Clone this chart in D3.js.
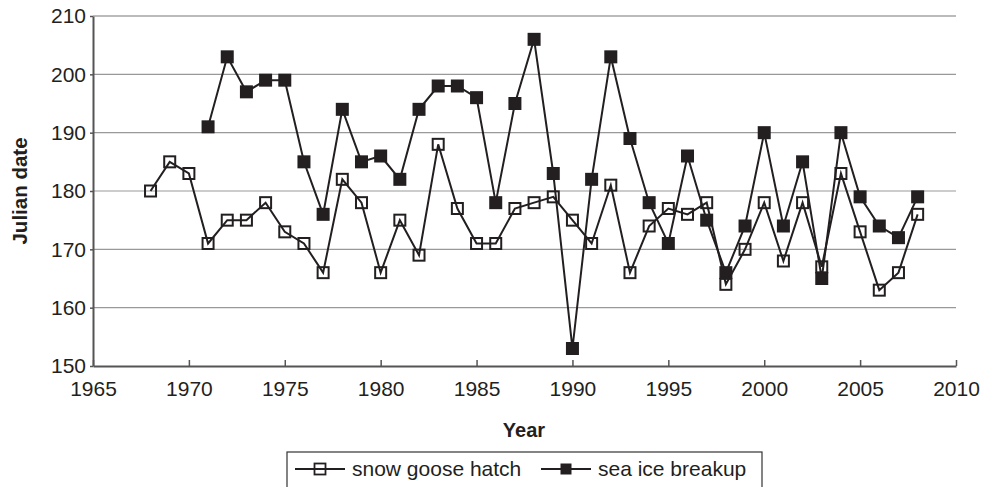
<!DOCTYPE html>
<html lang="en">
<head>
    <meta charset="UTF-8">
    <title>Snow goose hatch vs sea ice breakup</title>
    <script src="https://d3js.org/d3.v7.min.js"></script>
    <style>
        body { margin: 0; background: #fff; }
        text { font-family: "Liberation Sans", Arial, sans-serif; fill: #231f20; }
        .grid line { stroke: #999; stroke-width: 1.2; }
        .axis path, .axis line { stroke: #555; }
    </style>
</head>
<body>
    <script>
        // data
        const gooseYears = d3.range(1968, 2009);
        const gooseHatch = [180, 185, 183, 171, 175, 175, 178, 173, 171, 166,
                            182, 178, 166, 175, 169, 188, 177, 171, 171, 177,
                            178, 179, 175, 171, 181, 166, 174, 177, 176, 178,
                            164, 170, 178, 168, 178, 167, 183, 173, 163, 166, 176];
        const iceYears = d3.range(1971, 2009);
        const iceBreakup = [191, 203, 197, 199, 199, 185, 176, 194, 185, 186,
                            182, 194, 198, 198, 196, 178, 195, 206, 183, 153,
                            182, 203, 189, 178, 171, 186, 175, 166, 174, 190,
                            174, 185, 165, 190, 179, 174, 172, 179];
        const xTicks = [1965, 1970, 1975, 1980, 1985, 1990, 1995, 2000, 2005, 2010];
        const yTicks = [150, 160, 170, 180, 190, 200, 210];

        const svgWidth = 982, svgHeight = 487;
        const ink = "#231f20";

        const svg = d3.select("body").append("svg")
            .attr("width", svgWidth)
            .attr("height", svgHeight);

        const x = d3.scaleLinear().domain([1965, 2010]).range([93, 956]);
        const y = d3.scaleLinear().domain([150, 210]).range([366, 16]);

        // horizontal gridlines
        svg.append("g").attr("class", "grid")
            .selectAll("line")
            .data(yTicks.filter(d => d > 150))
            .enter().append("line")
            .attr("x1", x(1965)).attr("x2", x(2010))
            .attr("y1", d => y(d)).attr("y2", d => y(d))
            .style("stroke", d => d === 210 ? "#bbb" : null)
            .style("stroke-width", d => d === 210 ? 2 : null);

        // axes
        const xAxis = svg.append("g").attr("class", "axis")
            .attr("transform", "translate(0," + y(150) + ")")
            .call(d3.axisBottom(x).tickValues(xTicks).tickFormat(d3.format("d"))
                .tickSizeInner(-6).tickSizeOuter(0).tickPadding(15));
        xAxis.select(".domain").attr("stroke-width", 2);
        xAxis.selectAll(".tick line").attr("stroke-width", 1.5);
        xAxis.selectAll("text").style("font-size", "21px").attr("fill", ink);

        const yAxis = svg.append("g").attr("class", "axis")
            .attr("transform", "translate(" + x(1965) + ",0)")
            .call(d3.axisLeft(y).tickValues(yTicks)
                .tickSizeInner(3).tickSizeOuter(0).tickPadding(4));
        yAxis.select(".domain").attr("stroke-width", 2);
        yAxis.selectAll(".tick line").attr("stroke-width", 1.5);
        yAxis.selectAll("text").style("font-size", "21px").attr("fill", ink);

        // axis titles
        svg.append("text")
            .attr("transform", "translate(27," + (y(180)) + ") rotate(-90)")
            .attr("text-anchor", "middle")
            .style("font-size", "20.5px").style("font-weight", "bold")
            .text("Julian date");
        svg.append("text")
            .attr("x", 524).attr("y", 437)
            .attr("text-anchor", "middle")
            .style("font-size", "20px").style("font-weight", "bold")
            .text("Year");

        const line = d3.line().x(d => x(d[0])).y(d => y(d[1]));
        const ice = iceYears.map((yr, i) => [yr, iceBreakup[i]]);
        const goose = gooseYears.map((yr, i) => [yr, gooseHatch[i]]);

        // sea ice breakup: filled squares
        svg.append("path").datum(ice)
            .attr("d", line).attr("fill", "none")
            .attr("stroke", ink).attr("stroke-width", 2);
        svg.selectAll(".ice")
            .data(ice).enter().append("rect")
            .attr("class", "ice")
            .attr("x", d => x(d[0]) - 6.5).attr("y", d => y(d[1]) - 6.5)
            .attr("width", 13).attr("height", 13)
            .attr("fill", ink);

        // snow goose hatch: open squares
        svg.append("path").datum(goose)
            .attr("d", line).attr("fill", "none")
            .attr("stroke", ink).attr("stroke-width", 2);
        svg.selectAll(".goose")
            .data(goose).enter().append("rect")
            .attr("class", "goose")
            .attr("x", d => x(d[0]) - 5.5).attr("y", d => y(d[1]) - 5.5)
            .attr("width", 11).attr("height", 11)
            .attr("fill", "none").attr("stroke", ink).attr("stroke-width", 2);

        // legend
        const legend = svg.append("g");
        legend.append("rect")
            .attr("x", 287).attr("y", 452).attr("width", 475).attr("height", 50)
            .attr("fill", "none").attr("stroke", "#333").attr("stroke-width", 1.2);
        const items = [
            { label: "snow goose hatch", x0: 295, filled: false },
            { label: "sea ice breakup", x0: 541, filled: true }
        ];
        items.forEach(it => {
            const cy = 469;
            legend.append("line")
                .attr("x1", it.x0).attr("x2", it.x0 + 50)
                .attr("y1", cy).attr("y2", cy)
                .attr("stroke", ink).attr("stroke-width", 2);
            legend.append("rect")
                .attr("x", it.x0 + 25 - 5.5).attr("y", cy - 5.5)
                .attr("width", 11).attr("height", 11)
                .attr("fill", it.filled ? ink : "none")
                .attr("stroke", ink).attr("stroke-width", it.filled ? 0 : 1.8);
            legend.append("text")
                .attr("x", it.x0 + 57).attr("y", cy + 7)
                .style("font-size", "21px")
                .text(it.label);
        });
    </script>
</body>
</html>
